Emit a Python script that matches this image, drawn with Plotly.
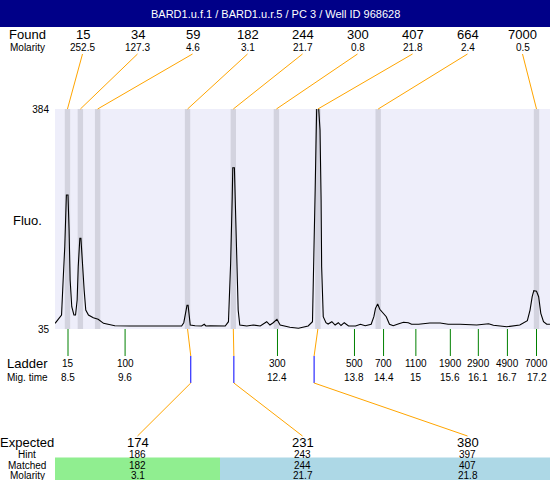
import plotly.graph_objects as go

titulo = "BARD1.u.f.1 / BARD1.u.r.5 / PC 3 / Well ID 968628"

found_size = [15, 34, 59, 182, 244, 300, 407, 664, 7000]
found_molarity = [252.5, 127.3, 4.6, 3.1, 21.7, 0.8, 21.8, 2.4, 0.5]
found_time = [8.49, 8.73, 9.05, 10.72, 11.57, 12.37, 13.14, 14.26, 17.20]

ladder_size = [15, 100, 300, 500, 700, 1100, 1900, 2900, 4900, 7000]
ladder_time = [8.50, 9.56, 12.39, 13.82, 14.36, 14.96, 15.60, 16.12, 16.66, 17.20]
ladder_time_label = ["8.5", "9.6", "12.4", "13.8", "14.4", "15", "15.6", "16.1", "16.7", "17.2"]

expected_size = [174, 231, 380]
hint_size = [186, 243, 397]
hint_time = [10.78, 11.58, 13.07]
matched_size = [182, 244, 407]
matched_molarity = [3.1, 21.7, 21.8]

trace_time = [
    8.26, 8.38, 8.41, 8.44, 8.47, 8.50, 8.52, 8.54, 8.57, 8.61,
    8.64, 8.67, 8.69, 8.72, 8.74, 8.77, 8.80, 8.83, 8.88, 8.97,
    9.06, 9.16, 9.28, 9.37, 9.65, 10.02, 10.61, 10.65, 10.69, 10.71,
    10.73, 10.75, 10.77, 10.86, 10.98, 11.03, 11.06, 11.14, 11.42, 11.48,
    11.52, 11.55, 11.56, 11.59, 11.61, 11.63, 11.66, 11.69, 11.82, 11.94,
    12.07, 12.19, 12.25, 12.31, 12.38, 12.44, 12.62, 12.78, 12.96, 13.04,
    13.07, 13.09, 13.11, 13.12, 13.15, 13.18, 13.20, 13.21, 13.24, 13.29,
    13.33, 13.40, 13.46, 13.52, 13.57, 13.63, 13.71, 13.84, 13.93, 14.02,
    14.13, 14.18, 14.21, 14.25, 14.29, 14.34, 14.41, 14.47, 14.54, 14.63,
    14.73, 14.82, 14.88, 15.01, 15.22, 15.41, 15.56, 15.78, 16.09, 16.31,
    16.40, 16.65, 16.77, 16.89, 17.03, 17.08, 17.12, 17.15, 17.20, 17.24,
    17.28, 17.33, 17.39, 17.45,
]
trace_fluo = [
    44.0, 57.2, 112.7, 165.6, 247.6, 247.6, 192.0, 112.7, 70.4, 57.2,
    57.2, 81.0, 133.8, 178.9, 178.9, 133.8, 96.9, 65.1, 57.2, 52.9,
    50.4, 44.0, 41.3, 40.2, 39.8, 39.8, 39.8, 45.0, 62.4, 72.6,
    72.6, 54.5, 41.3, 40.2, 39.8, 42.5, 39.8, 40.2, 39.8, 46.6,
    139.2, 244.9, 290.9, 290.9, 229.0, 139.2, 65.1, 41.3, 39.8, 41.3,
    39.8, 46.6, 41.3, 45.0, 50.4, 41.3, 37.7, 36.1, 39.8, 46.6,
    155.1, 255.5, 350.7, 392.0, 392.0, 350.7, 239.6, 133.8, 54.5, 45.0,
    42.9, 46.6, 41.3, 45.0, 40.5, 45.0, 39.8, 39.8, 42.5, 40.2,
    42.5, 54.5, 67.8, 74.7, 66.3, 61.5, 54.5, 42.5, 40.2, 42.9,
    45.6, 45.0, 42.5, 42.5, 44.5, 44.5, 42.5, 42.5, 41.3, 43.4,
    40.9, 38.6, 39.8, 41.3, 48.2, 65.1, 86.2, 95.8, 94.8, 86.2,
    59.9, 46.6, 42.5, 42.5,
]

# --- geometria (pixels) ---
W, H = 550, 480
L, T, B = 55, 109, 329          # área do gráfico
XR = [8.2586, 17.4507]          # faixa de tempo de migração
YR = [35, 384]
FONT = "Liberation Sans, Arial, sans-serif"
ORANGE = "#FFA500"
GREEN = "#008000"
BLUE = "#0000FF"
BAND = "#D3D3DF"


def xp(px):
    return (px - L) / (W - L)


def yp(py):
    return (B - py) / (B - T)


def col_t(px):
    """posição horizontal de uma coluna de rótulos, em tempo"""
    return XR[0] + (px - L) / (W - L) * (XR[1] - XR[0])


def txt(fig, x, y, s, size, xref="paper", color="black"):
    fig.add_annotation(x=x, y=yp(y), xref=xref, yref="paper", text=s,
                       showarrow=False, xanchor="center", yanchor="middle",
                       borderpad=0, font=dict(size=size, color=color, family=FONT))


def seg(fig, x0, y0, x1, y1, color):
    fig.add_shape(type="line", xref="x", yref="paper", x0=x0, x1=x1,
                  y0=yp(y0), y1=yp(y1), line=dict(color=color, width=1))


fig = go.Figure()

# faixas dos picos encontrados
for t in found_time:
    fig.add_shape(type="rect", xref="x", yref="paper", x0=t - 0.05, x1=t + 0.05,
                  y0=0, y1=1, fillcolor=BAND, line_width=0, layer="below")

fig.add_trace(go.Scatter(x=trace_time, y=trace_fluo, mode="lines",
                         line=dict(color="black", width=1.1), hoverinfo="skip"))

# barra de título
fig.add_shape(type="rect", xref="paper", yref="paper", x0=xp(0), x1=xp(W),
              y0=yp(27), y1=yp(0), fillcolor="#000088", line_width=0)
txt(fig, xp(275), 14, titulo, 11, color="white")

# linha "Found" / "Molarity"
txt(fig, xp(27), 34, "Found", 13)
txt(fig, xp(27), 47, "Molarity", 10)
for i, (s, m, t) in enumerate(zip(found_size, found_molarity, found_time)):
    cx = L + 27.5 + 55 * i
    txt(fig, xp(cx), 34, str(s), 13)
    txt(fig, xp(cx), 47, f"{m}", 10)
    seg(fig, col_t(cx), 54, t, T, ORANGE)

txt(fig, xp(27), 220, "Fluo.", 13)

# escada
txt(fig, xp(27), 363, "Ladder", 13)
txt(fig, xp(27), 377, "Mig. time", 10)
for s, t, lab in zip(ladder_size, ladder_time, ladder_time_label):
    seg(fig, t, B, t, 356, GREEN)
    txt(fig, t, 363, str(s), 10, xref="x")
    txt(fig, t, 377, lab, 10, xref="x")

# tabela esperado / encontrado
txt(fig, xp(27), 442.5, "Expected", 13)
txt(fig, xp(27), 454.5, "Hint", 10)
txt(fig, xp(27), 465, "Matched", 10)
txt(fig, xp(27), 475, "Molarity", 10)
cores = ["#90EE90", "#ADD8E6", "#ADD8E6"]
for j in range(len(expected_size)):
    x0 = L + 165 * j
    cx = x0 + 82.5
    fig.add_shape(type="rect", xref="paper", yref="paper", x0=xp(x0), x1=xp(x0 + 165),
                  y0=yp(H), y1=yp(457.5), fillcolor=cores[j], line_width=0, layer="below")
    tf = found_time[found_size.index(matched_size[j])]
    seg(fig, tf, B, hint_time[j], 356, ORANGE)
    seg(fig, hint_time[j], 356, hint_time[j], 383, BLUE)
    seg(fig, hint_time[j], 383, col_t(cx), 436, ORANGE)
    txt(fig, xp(cx), 442.5, str(expected_size[j]), 13)
    txt(fig, xp(cx), 454.5, str(hint_size[j]), 10)
    txt(fig, xp(cx), 465, str(matched_size[j]), 10)
    txt(fig, xp(cx), 475, str(matched_molarity[j]), 10)

fig.update_layout(
    width=W, height=H,
    margin=dict(l=L, r=0, t=T, b=H - B, pad=0),
    paper_bgcolor="white", plot_bgcolor="#EEEEFA",
    showlegend=False,
    font=dict(family=FONT, color="black"),
    xaxis=dict(range=XR, visible=False, fixedrange=True),
    yaxis=dict(range=YR, tickvals=[35, 384], showgrid=False, zeroline=False,
               ticks="", ticklabelstandoff=5, tickfont=dict(size=10),
               fixedrange=True),
)

# a página começa no canto, sem a margem padrão do <body>
fig.write_html("out.html", config={"displayModeBar": False},
               post_script="document.body.style.margin='0';")
